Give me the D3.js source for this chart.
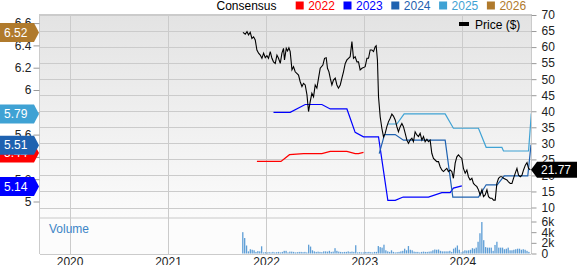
<!DOCTYPE html>
<html>
<head>
<meta charset="utf-8">
<script src="https://d3js.org/d3.v7.min.js"></script>
<style>
    body{margin:0;background:#fff;}
    svg text{font-family:"Liberation Sans",Arial,sans-serif;}
</style>
</head>
<body>
<svg class="eps_chart"></svg>
<script>
//
//Price ($), dates as decimal years
var priceT = [2021.764,2021.787,2021.805,2021.821,2021.838,2021.855,2021.872,2021.889,2021.906,2021.923,
    2021.940,2021.957,2021.974,2021.991,2022.008,2022.024,2022.042,2022.059,2022.075,2022.093,
    2022.110,2022.126,2022.144,2022.161,2022.177,2022.187,2022.205,2022.218,2022.232,2022.245,
    2022.263,2022.279,2022.296,2022.330,2022.347,2022.365,2022.381,2022.398,2022.416,2022.432,
    2022.449,2022.466,2022.483,2022.500,2022.517,2022.534,2022.551,2022.578,2022.595,2022.612,
    2022.625,2022.640,2022.653,2022.670,2022.686,2022.704,2022.721,2022.737,2022.755,2022.772,
    2022.788,2022.806,2022.823,2022.839,2022.856,2022.874,2022.890,2022.907,2022.925,2022.941,
    2022.958,2022.976,2022.992,2023.009,2023.027,2023.043,2023.060,2023.077,2023.094,2023.111,
    2023.121,2023.134,2023.145,2023.162,2023.179,2023.196,2023.213,2023.230,2023.246,2023.264,
    2023.281,2023.297,2023.315,2023.332,2023.348,2023.366,2023.383,2023.399,2023.417,2023.434,
    2023.450,2023.467,2023.485,2023.501,2023.518,2023.536,2023.552,2023.569,2023.587,2023.603,
    2023.620,2023.638,2023.654,2023.671,2023.688,2023.705,2023.722,2023.739,2023.756,2023.773,
    2023.790,2023.807,2023.824,2023.841,2023.857,2023.875,2023.892,2023.908,2023.926,2023.943,
    2023.959,2023.977,2023.994,2024.010,2024.028,2024.045,2024.061,2024.078,2024.096,2024.112,
    2024.129,2024.147,2024.163,2024.180,2024.198,2024.214,2024.231,2024.249,2024.265,2024.282,
    2024.299,2024.316,2024.333,2024.350,2024.367,2024.384,2024.401,2024.418,2024.452,2024.468,
    2024.486,2024.503,2024.519,2024.537,2024.554,2024.570,2024.588,2024.605,2024.621,2024.639,
    2024.656,2024.672,2024.689];
var priceV = [64.6,64.0,64.8,63.8,64.6,62.7,63.2,62.2,59.1,58.1,
    57.5,56.5,58.1,56.7,57.3,56.5,58.6,56.5,55.4,54.9,
    57.5,56.5,54.9,58.1,59.6,56.0,59.6,58.8,59.8,58.6,
    52.9,53.9,52.3,51.3,49.2,47.7,48.7,48.2,45.1,39.9,
    43.0,45.6,44.5,48.2,47.2,50.3,53.4,54.4,56.5,56.7,
    53.4,52.3,50.3,48.2,49.7,50.3,48.2,47.2,48.2,50.3,
    52.3,54.9,56.0,56.5,57.0,61.7,56.5,57.0,55.4,55.4,
    52.9,53.4,53.6,53.9,56.5,56.5,59.1,59.1,58.6,60.1,
    60.4,56.0,44.5,38.3,34.7,32.0,33.1,35.2,36.7,37.8,
    39.1,38.5,37.3,35.2,33.6,35.2,36.2,35.2,33.1,31.0,
    30.0,31.0,31.6,30.5,33.6,32.6,32.1,33.1,31.0,32.1,
    30.5,31.3,30.5,31.0,26.9,25.3,24.8,24.3,24.3,22.7,
    21.7,21.2,21.7,22.2,21.2,21.7,21.2,19.1,23.8,25.8,
    26.4,25.8,25.3,22.2,20.7,21.7,19.6,18.6,19.1,17.5,
    17.0,16.5,15.5,13.9,15.5,13.4,13.9,15.5,13.4,12.9,
    12.9,12.3,12.3,17.5,19.1,19.6,19.6,19.1,18.6,18.0,
    17.5,17.5,19.1,20.7,22.2,20.1,19.6,20.1,21.7,23.2,
    24.0,22.2,21.77];
//
//Consensus EPS estimates per fiscal year
var eps2022T = [2021.906,2022.151,2022.238,2022.381,2022.568,2022.653,2022.823,2022.907,2022.941,2022.992];
var eps2022V = [5.36,5.36,5.42,5.43,5.43,5.45,5.45,5.43,5.43,5.44];
var eps2023T = [2022.075,2022.245,2022.398,2022.568,2022.653,2022.823,2022.907,2022.992,2023.145,2023.240,
    2023.315,2023.396,2023.654,2023.790,2023.875,2023.908,2023.994];
var eps2023V = [5.80,5.80,5.87,5.87,5.83,5.83,5.62,5.58,5.58,5.01,5.01,5.04,5.04,5.08,5.08,5.12,5.14];
var eps2024T = [2023.152,2023.206,2023.315,2023.399,2023.824,2023.902,2024.163,2024.241,2024.353,2024.425,2024.664,2024.697];
var eps2024V = [5.43,5.60,5.60,5.55,5.55,5.04,5.04,5.15,5.15,5.23,5.23,5.51];
var eps2025T = [2023.243,2023.332,2023.406,2023.824,2023.908,2024.163,2024.241,2024.401,2024.417,2024.672,2024.700];
var eps2025V = [5.695,5.695,5.785,5.785,5.657,5.657,5.486,5.486,5.453,5.453,5.79];
var eps2026T = [2024.700];
var eps2026V = [6.52];
//
//Weekly volume (thousands), first week starting 2021-10-06
var volStart = "2021-10-06";
var volume = [4.0,2.9,1.5,0.4,0.8,0.7,0.6,0.3,0.45,0.4,1.35,0.2,0.25,0.2,0.25,0.2,0.3,0.2,0.25,0.3,
    0.2,0.3,0.5,0.5,0.2,0.35,0.35,0.3,0.2,0.25,0.3,0.3,0.25,0.3,0.2,1.65,1.3,0.6,0.4,0.3,
    0.35,0.3,0.25,0.4,0.4,0.35,0.5,0.3,0.35,1.0,0.5,0.35,0.3,0.25,0.3,0.3,0.4,0.3,0.35,0.3,
    1.55,0.2,0.25,0.2,0.2,0.3,0.25,0.3,0.25,0.2,0.3,0.3,1.4,1.2,1.1,1.65,0.6,0.4,0.3,0.6,
    0.3,0.2,0.25,0.3,0.4,0.5,0.9,0.6,1.4,0.7,0.6,0.35,0.3,0.3,0.2,0.3,0.35,0.3,0.3,0.35,
    0.4,0.6,0.75,0.7,0.75,0.5,0.4,0.4,0.4,0.4,0.5,0.3,0.9,1.1,1.5,0.7,0.2,0.4,0.6,0.55,
    0.6,0.7,1.0,0.9,1.1,2.2,3.8,5.9,2.5,1.2,1.1,1.1,1.1,0.5,1.6,2.2,1.1,1.1,1.1,0.8,
    0.9,1.1,0.6,0.6,0.7,0.8,0.9,0.9,0.7,0.8,0.7,0.5,0.3];
//
//Legend and tick labels
var years = ["2022","2023","2024","2025","2026"];
var yearColors = ["#ff0000","#0000ff","#1f62b0","#3fa2d4","#b07a2c"];
var xYears = [2020,2021,2022,2023,2024];
var priceTicks = [10,15,20,25,30,35,40,45,50,55,60,65,70];
var epsTicks = [5,5.2,5.4,5.6,5.8,6,6.2,6.4,6.6];
var volTicks = [0,2,4,6];

//
//Turn a decimal year into a date
function toDate(t){
    var y = Math.floor(t);
    var a = new Date(y,0,1), b = new Date(y+1,0,1);
    return new Date(a.getTime() + (t-y)*(b-a));
}

//
//Set the variables
var width = 577, height = 265;
var plotLeft = 40, plotRight = 531, plotTop = 14, mainBottom = 217, volTop = 219, volBottom = 254;
var grid = "#cbcbcb";

var svg = d3.select(".eps_chart")
    .attr("width", width)
    .attr("height", height);

var defs = svg.append("defs");
var grad = defs.append("linearGradient")
    .attr("id","bg").attr("x1",0).attr("y1",0).attr("x2",0).attr("y2",1);
grad.append("stop").attr("offset","0%").attr("stop-color","#e3e3e3");
grad.append("stop").attr("offset","100%").attr("stop-color","#fbfbfb");
defs.append("clipPath").attr("id","clipMain")
    .append("rect").attr("x",plotLeft).attr("y",plotTop).attr("width",plotRight-plotLeft).attr("height",mainBottom-plotTop);

//
//Scales
var x = d3.scaleTime()
    .domain([new Date(2019,8,13), new Date(2024,8,12)])
    .range([plotLeft, plotRight]);
var yPrice = d3.scaleLinear().domain([10,70]).range([207.5,15]);
var yEps = d3.scaleLinear().domain([5,6.6]).range([201.5,23.1]);
var yVol = d3.scaleLinear().domain([0,6]).range([253.5,221.5]);

//
//Backgrounds
svg.append("rect").attr("x",plotLeft).attr("y",plotTop).attr("width",plotRight-plotLeft).attr("height",mainBottom-plotTop)
    .style("fill","url(#bg)");
svg.append("rect").attr("x",plotLeft).attr("y",mainBottom).attr("width",plotRight-plotLeft).attr("height",volTop-mainBottom)
    .style("fill","#e2e2e2");
svg.append("rect").attr("x",plotLeft).attr("y",volTop).attr("width",plotRight-plotLeft).attr("height",volBottom-volTop)
    .style("fill","#fcfcfc");

//
//Grid lines
svg.append("g").selectAll("line").data(priceTicks).enter().append("line")
    .attr("x1",plotLeft).attr("x2",plotRight)
    .attr("y1",d=>Math.round(yPrice(d))+0.5).attr("y2",d=>Math.round(yPrice(d))+0.5)
    .style("stroke",grid);
svg.append("g").selectAll("line").data(xYears).enter().append("line")
    .attr("x1",d=>Math.round(x(new Date(d,0,1)))+0.5).attr("x2",d=>Math.round(x(new Date(d,0,1)))+0.5)
    .attr("y1",plotTop).attr("y2",volBottom)
    .style("stroke",grid);

//
//Volume bars
var vDates = volume.map((d,i)=>d3.timeDay.offset(new Date(volStart+"T00:00:00"), i*7));
svg.append("g").selectAll("rect").data(volume).enter().append("rect")
    .attr("x",(d,i)=>x(vDates[i])-0.6)
    .attr("width",1.3)
    .attr("y",d=>yVol(d))
    .attr("height",d=>yVol(0)-yVol(d))
    .style("fill","#5e9ed6");
svg.append("text")
    .attr("x",49).attr("y",233)
    .style("font-size","12px").style("fill","#3d85c6")
    .text("Volume");

//
//Frame
svg.append("line").attr("x1",plotLeft-0.5).attr("x2",plotLeft-0.5).attr("y1",plotTop).attr("y2",volBottom).style("stroke",grid);
svg.append("line").attr("x1",plotRight+0.5).attr("x2",plotRight+0.5).attr("y1",plotTop).attr("y2",volBottom).style("stroke",grid);
svg.append("line").attr("x1",plotLeft).attr("x2",plotRight).attr("y1",plotTop+0.5).attr("y2",plotTop+0.5).style("stroke",grid);
svg.append("line").attr("x1",plotLeft).attr("x2",plotRight).attr("y1",volBottom+0.5).attr("y2",volBottom+0.5).style("stroke",grid);

//
//Consensus lines
var plot = svg.append("g").attr("clip-path","url(#clipMain)");
var epsSeries = [[eps2022T,eps2022V],[eps2023T,eps2023V],[eps2024T,eps2024V],[eps2025T,eps2025V],[eps2026T,eps2026V]];
var epsLine = d3.line().x(d=>x(toDate(d[0]))).y(d=>yEps(d[1]));
epsSeries.forEach((s,k)=>{
    plot.append("path")
        .datum(s[0].map((t,i)=>[t,s[1][i]]))
        .style("fill","none")
        .style("stroke",yearColors[k])
        .style("stroke-width","1.2")
        .attr("d",epsLine);
});

//
//Price line
plot.append("path")
    .datum(priceT.map((t,i)=>[t,priceV[i]]))
    .style("fill","none")
    .style("stroke","#000")
    .style("stroke-width","1.1")
    .attr("d",d3.line().x(d=>x(toDate(d[0]))).y(d=>yPrice(d[1])));

//
//Axes
var axR = svg.append("g").attr("transform","translate("+(plotRight+0.5)+",0)")
    .call(d3.axisRight(yPrice).tickValues(priceTicks).tickSize(5).tickPadding(5));
var axL = svg.append("g").attr("transform","translate("+(plotLeft-0.5)+",0)")
    .call(d3.axisLeft(yEps).tickValues(epsTicks).tickSize(6).tickPadding(2).tickFormat(d=>String(+d.toFixed(1))));
var axV = svg.append("g").attr("transform","translate("+(plotRight+0.5)+",0)")
    .call(d3.axisRight(yVol).tickValues(volTicks).tickSize(5).tickPadding(5).tickFormat(d=>d ? d+"k" : "0"));
var axX = svg.append("g").attr("transform","translate(0,"+volBottom+")")
    .call(d3.axisBottom(x).tickValues(xYears.map(y=>new Date(y,0,1))).tickSize(0).tickPadding(3).tickFormat(d3.timeFormat("%Y")));
[axR,axL,axV,axX].forEach(a=>{
    a.select(".domain").remove();
    a.selectAll("line").style("stroke","#999");
    a.selectAll("text").style("font-size","12px").style("fill","#222").style("font-family",'"Liberation Sans",Arial,sans-serif');
});

//
//Last value labels on the left
epsSeries.forEach((s,k)=>{
    var v = s[1][s[1].length-1];
    var cy = yEps(v)+0.5;
    svg.append("path")
        .attr("d","M0,"+(cy-9.5)+"H34L39,"+cy+"L34,"+(cy+9.5)+"H0Z")
        .style("fill",yearColors[k]);
    svg.append("text")
        .attr("x",4).attr("y",cy+4.2)
        .style("font-size","12px").style("fill","#fff")
        .text(v.toFixed(2));
});

//
//Last price label on the right
var lastP = priceV[priceV.length-1];
var py = yPrice(lastP);
svg.append("path")
    .attr("d","M531,"+py+"L537,"+(py-8)+"H577V"+(py+8)+"H537Z")
    .style("fill","#000");
svg.append("text")
    .attr("x",541).attr("y",py+4.3)
    .style("font-size","12px").style("fill","#fff")
    .text(lastP.toFixed(2));

//
//Legend
svg.append("text").attr("x",216.5).attr("y",9.5).style("font-size","12px").style("fill","#000").text("Consensus");
var leg = svg.append("g").selectAll("g").data(years).enter().append("g")
    .attr("transform",(d,i)=>"translate("+(295.7+i*47.8)+",0)");
leg.append("rect").attr("x",0).attr("y",1.5).attr("width",8).attr("height",8).style("fill",(d,i)=>yearColors[i]);
leg.append("text").attr("x",12.5).attr("y",9.5).style("font-size","12px").style("fill",(d,i)=>yearColors[i]).text(d=>d);
svg.append("rect").attr("x",459).attr("y",22).attr("width",10).attr("height",4).style("fill","#000");
svg.append("text").attr("x",475).attr("y",28.8).style("font-size","12px").style("fill","#000").text("Price ($)");
</script>
</body>
</html>
